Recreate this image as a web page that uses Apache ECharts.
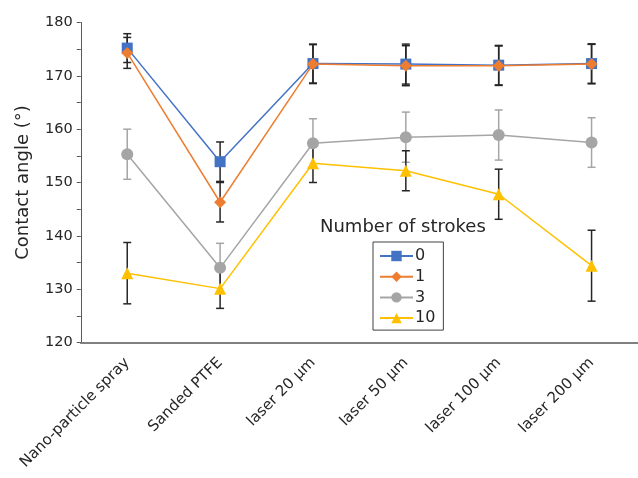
<!DOCTYPE html>
<html><head><meta charset="utf-8">
<script src="https://cdn.jsdelivr.net/npm/echarts@6/dist/echarts.min.js"></script>
<style>html,body{margin:0;padding:0;background:#fff}#c{width:638px;height:478px}</style>
</head><body><div id="c"></div>
<script>
var categories = ['Nano-particle spray', 'Sanded PTFE', 'laser 20 µm', 'laser 50 µm', 'laser 100 µm', 'laser 200 µm'];
var seriesNames = ['0', '1', '3', '10'];
var s0 = [175.2, 153.9, 172.3, 172.2, 172.0, 172.3];
var s0err = [2.7, 3.7, 3.65, 3.75, 3.7, 3.7];
var s1 = [174.3, 146.3, 172.2, 171.9, 171.9, 172.2];
var s1err = [2.9, 3.7, 3.65, 3.75, 3.7, 3.7];
var s3 = [155.3, 134.0, 157.35, 158.5, 158.9, 157.5];
var s3err = [4.7, 4.6, 4.6, 4.7, 4.7, 4.65];
var s10 = [133.0, 130.1, 153.6, 152.2, 147.8, 134.4];
var s10err = [5.75, 3.7, 3.6, 3.75, 4.7, 6.65];
var yTicks = [120, 130, 140, 150, 160, 170, 180];

var colors = ['#4472C4', '#ED7D31', '#A5A5A5', '#FFC000'];
var symbols = ['rect', 'diamond', 'circle', 'triangle'];
var symSizes = [11, 12, 12, 12];
var errColors = ['#262626', '#262626', '#A5A5A5', '#262626'];
var vals = [s0, s1, s3, s10];
var errs = [s0err, s1err, s3err, s10err];

var font = 'DejaVu Sans, Verdana, sans-serif';
var series = [];
vals.forEach(function (v, k) {
  series.push({
    type: 'custom', silent: true, z: 1,
    data: v.map(function (y, i) { return [i, y - errs[k][i], y + errs[k][i]]; }),
    renderItem: function (params, api) {
      var lo = api.coord([api.value(0), api.value(1)]);
      var hi = api.coord([api.value(0), api.value(2)]);
      var w = 4;
      var st = { stroke: errColors[k], lineWidth: 1.5 };
      return { type: 'group', children: [
        { type: 'line', shape: { x1: lo[0], y1: lo[1], x2: hi[0], y2: hi[1] }, style: st },
        { type: 'line', shape: { x1: lo[0] - w, y1: lo[1], x2: lo[0] + w, y2: lo[1] }, style: st },
        { type: 'line', shape: { x1: hi[0] - w, y1: hi[1], x2: hi[0] + w, y2: hi[1] }, style: st }
      ]};
    }
  });
});
vals.forEach(function (v, k) {
  series.push({
    name: seriesNames[k], type: 'line', data: v, z: 3 + k,
    symbol: symbols[k], symbolSize: symSizes[k], showSymbol: true,
    itemStyle: { color: colors[k] },
    lineStyle: { color: colors[k], width: 1.5 },
    emphasis: { disabled: true }, animation: false
  });
});

var chart = echarts.init(document.getElementById('c'));
chart.setOption({
  animation: false,
  grid: { left: 80.8, right: -9.2, top: 22.5, bottom: 135.5 },
  xAxis: {
    type: 'category', data: categories, boundaryGap: true,
    axisLine: { lineStyle: { color: '#808080', width: 2 } },
    axisTick: { alignWithLabel: true, length: 4, lineStyle: { color: '#595959' } },
    axisLabel: { rotate: 45, color: '#262626', fontSize: 15, fontFamily: font, margin: 18, interval: 0 }
  },
  yAxis: {
    type: 'value', min: 120, max: 180, interval: 5,
    name: 'Contact angle (°)', nameLocation: 'middle', nameGap: 48,
    nameTextStyle: { color: '#262626', fontSize: 18, fontFamily: font },
    axisLine: { show: true, lineStyle: { color: '#595959', width: 1 } },
    axisTick: { show: true, length: 4, lineStyle: { color: '#595959' } },
    splitLine: { show: false },
    axisLabel: {
      color: '#262626', fontSize: 14.5, fontFamily: font, margin: 8,
      formatter: function (v) { return yTicks.indexOf(v) >= 0 ? String(v) : ''; }
    }
  },
  legend: {
    data: seriesNames, orient: 'vertical', left: 373, top: 242,
    borderColor: '#404040', borderWidth: 1, padding: [6, 8, 4, 6],
    itemWidth: 33, itemHeight: 13, itemGap: 4.7,
    textStyle: { color: '#262626', fontSize: 16, lineHeight: 16, fontFamily: font, padding: [0, 0, 0, -3] }
  },
  graphic: [{
    type: 'text', left: 320, top: 218,
    style: { text: 'Number of strokes', fill: '#262626', font: '18px ' + font }
  }],
  series: series
});
</script></body></html>
